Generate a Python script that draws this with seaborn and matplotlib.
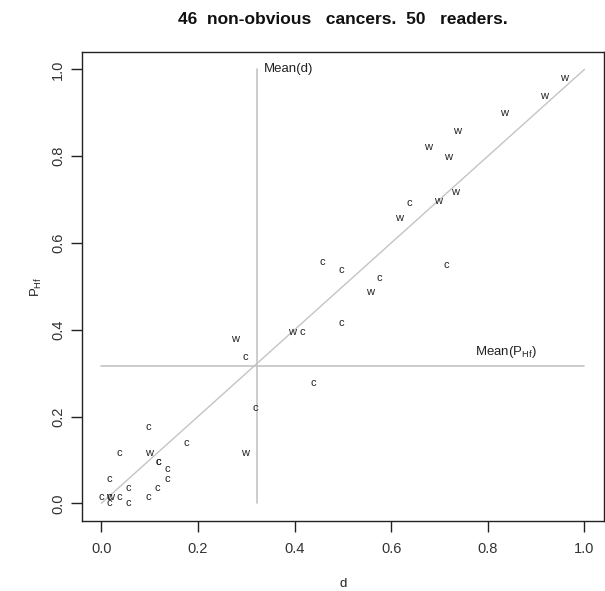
import pandas as pd
import matplotlib
matplotlib.use("Agg")
import matplotlib.pyplot as plt
import seaborn as sns

sns.set_theme(style="ticks")
plt.rcParams['font.family'] = ['Liberation Sans', 'DejaVu Sans']
plt.rcParams['mathtext.default'] = 'regular'

# reader labels: c = correct, w = wrong
labels = ['w', 'w', 'w', 'w', 'w', 'w', 'w', 'w', 'c', 'w',
          'c', 'c', 'c', 'c', 'w', 'c', 'w', 'c', 'w', 'c',
          'c', 'c', 'w',
          'c', 'c', 'c', 'w', 'c', 'c', 'c', 'c', 'c', 'c',
          'c', 'c', 'w', 'c', 'c', 'c', 'c', 'c']
d_vals = [0.957, 0.917, 0.833, 0.736, 0.676, 0.717, 0.732, 0.697, 0.637, 0.616,
          0.715, 0.457, 0.496, 0.575, 0.556, 0.496, 0.395, 0.416, 0.277, 0.298,
          0.438, 0.319, 0.298,
          0.098, 0.176, 0.038, 0.098, 0.118, 0.118, 0.137, 0.137, 0.017, 0.056,
          0.116, 0.0, 0.017, 0.017, 0.038, 0.098, 0.017, 0.056]
phf_vals = [0.981, 0.938, 0.900, 0.859, 0.820, 0.799, 0.718, 0.697, 0.693, 0.658,
            0.549, 0.556, 0.537, 0.519, 0.486, 0.416, 0.394, 0.394, 0.378, 0.337,
            0.277, 0.219, 0.115,
            0.175, 0.138, 0.117, 0.117, 0.096, 0.096, 0.078, 0.057, 0.057, 0.036,
            0.036, 0.015, 0.015, 0.015, 0.015, 0.015, 0.0, 0.0]
mean_d = 0.323
mean_phf = 0.316

df = pd.DataFrame({'d': d_vals, 'phf': phf_vals, 'lab': labels})

fig = plt.figure(figsize=(6.05, 5.91), dpi=100)
ax = fig.add_axes([0.1355, 0.119, 0.998 - 0.1355, 0.912 - 0.119])

grey = '#c4c4c4'
sns.lineplot(x=[0, 1], y=[0, 1], ax=ax, color=grey, linewidth=1)
ax.plot([mean_d, mean_d], [0, 1], color=grey, linewidth=1.2)
ax.plot([0, 1], [mean_phf, mean_phf], color=grey, linewidth=1.2)

for _, r in df.iterrows():
    ax.text(r['d'], r['phf'], r['lab'], ha='center', va='center',
            fontsize=8, color='#222222')

ax.text(mean_d + 0.013, 1.0, 'Mean(d)', ha='left', va='center', fontsize=9.5, color='#222222')
ax.text(0.773, 0.348, 'Mean(P$_{Hf}$)', ha='left', va='center', fontsize=9.5, color='#222222')

ax.set_xlim(-0.04, 1.04)
ax.set_ylim(-0.04, 1.04)
ax.set_xticks([0, 0.2, 0.4, 0.6, 0.8, 1.0])
ax.set_yticks([0, 0.2, 0.4, 0.6, 0.8, 1.0])
ax.set_xticklabels(['0.0', '0.2', '0.4', '0.6', '0.8', '1.0'])
ax.set_yticklabels(['0.0', '0.2', '0.4', '0.6', '0.8', '1.0'], rotation=90, va='center')
ax.tick_params(length=8, width=1, color='#222222', labelsize=10.5,
               labelcolor='#333333', pad=7)
ax.tick_params(axis='y', pad=4)
for s in ax.spines.values():
    s.set_color('#222222')
    s.set_linewidth(1)

ax.set_xlabel('d', fontsize=9.5, color='#222222', labelpad=16)
ax.set_ylabel('P$_{Hf}$', fontsize=9.5, color='#222222', labelpad=5)
ax.set_title('46  non-obvious   cancers.  50   readers.', fontsize=12.5,
             fontweight='bold', color='#111111', pad=20)

fig.savefig('out.png', dpi=100)
